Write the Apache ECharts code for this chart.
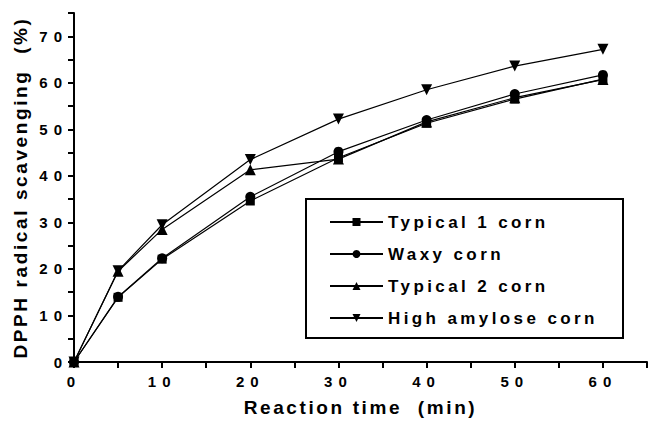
<!DOCTYPE html>
<html>
<head>
<meta charset="utf-8">
<script src="https://cdn.jsdelivr.net/npm/echarts@6/dist/echarts.min.js"></script>
<style>
html,body{margin:0;padding:0;background:#fff;}
#c{width:650px;height:422px;}
#c text[style*="15px"]{letter-spacing:6px;}
#c text[style*="17px"]{letter-spacing:3.4px;}
#c text[style*="19px"]{letter-spacing:2.6px;}
</style>
</head>
<body>
<div id="c"></div>
<script>
const times = [0, 5, 10, 20, 30, 40, 50, 60];
const typical1 = [0, 13.9, 22.1, 34.6, 43.9, 51.3, 56.5, 60.8];
const waxy = [0, 14.0, 22.3, 35.5, 45.2, 52.0, 57.6, 61.7];
const typical2 = [0, 19.5, 28.5, 41.3, 43.6, 51.6, 56.8, 60.7];
const highAmylose = [0, 19.6, 29.5, 43.5, 52.2, 58.5, 63.6, 67.2];
const seriesNames = ['Typical 1 corn', 'Waxy corn', 'Typical 2 corn', 'High amylose corn'];
const yTickLabels = [0, 10, 20, 30, 40, 50, 60, 70];
const xTickLabels = [0, 10, 20, 30, 40, 50, 60];

const font = 'Liberation Sans';
const symbols = ['rect', 'circle', 'triangle', 'triangle'];
const rotations = [0, 0, 0, 180];
const sizes = [9, 10, 11, 11];
const allData = [typical1, waxy, typical2, highAmylose];

const chart = echarts.init(document.getElementById('c'), null, {renderer: 'svg'});
chart.setOption({
  animation: false,
  backgroundColor: '#fff',
  grid: {left: 74, right: 0, top: 13, bottom: 59, containLabel: false},
  xAxis: {
    type: 'value', min: 0, max: 65, interval: 5,
    axisLine: {lineStyle: {color: '#000', width: 2}},
    axisTick: {inside: false, length: 6, lineStyle: {color: '#000', width: 2}},
    splitLine: {show: false},
    axisLabel: {color: '#000', fontFamily: font, fontSize: 15, fontWeight: 'bold', margin: 12,
      formatter: v => xTickLabels.includes(v) ? String(v) : ''},
    name: 'Reaction time  (min)', nameLocation: 'middle', nameGap: 36,
    nameTextStyle: {color: '#000', fontFamily: font, fontSize: 19, fontWeight: 'bold'}
  },
  yAxis: {
    type: 'value', min: 0, max: 75, interval: 5,
    axisLine: {lineStyle: {color: '#000', width: 2}},
    axisTick: {inside: false, length: 6, lineStyle: {color: '#000', width: 2}},
    splitLine: {show: false},
    axisLabel: {color: '#000', fontFamily: font, fontSize: 15, fontWeight: 'bold', margin: 6,
      formatter: v => yTickLabels.includes(v) ? String(v) : ''},
    name: 'DPPH radical scavenging  (%)', nameLocation: 'middle', nameGap: 44, nameRotate: 90,
    nameTextStyle: {color: '#000', fontFamily: font, fontSize: 19, fontWeight: 'bold'}
  },
  graphic: [{
    type: 'rect', left: 305, top: 198, z: 10,
    shape: {width: 317, height: 139},
    style: {fill: '#fff', stroke: '#000', lineWidth: 2}
  }],
  legend: {
    left: 329, top: 212, orient: 'vertical', z: 20,
    data: seriesNames,
    padding: 0,
    itemGap: 12, itemWidth: 53, itemHeight: 10,
    textStyle: {color: '#000', fontFamily: font, fontSize: 17, fontWeight: 'bold', lineHeight: 20}
  },
  series: seriesNames.map((n, i) => ({
    name: n, type: 'line',
    data: times.map((t, j) => [t, allData[i][j]]),
    symbol: symbols[i], symbolSize: sizes[i], symbolRotate: rotations[i],
    itemStyle: {color: '#000'},
    lineStyle: {color: '#000', width: 1.2},
    z: 3 + i
  }))
});
</script>
</body>
</html>
